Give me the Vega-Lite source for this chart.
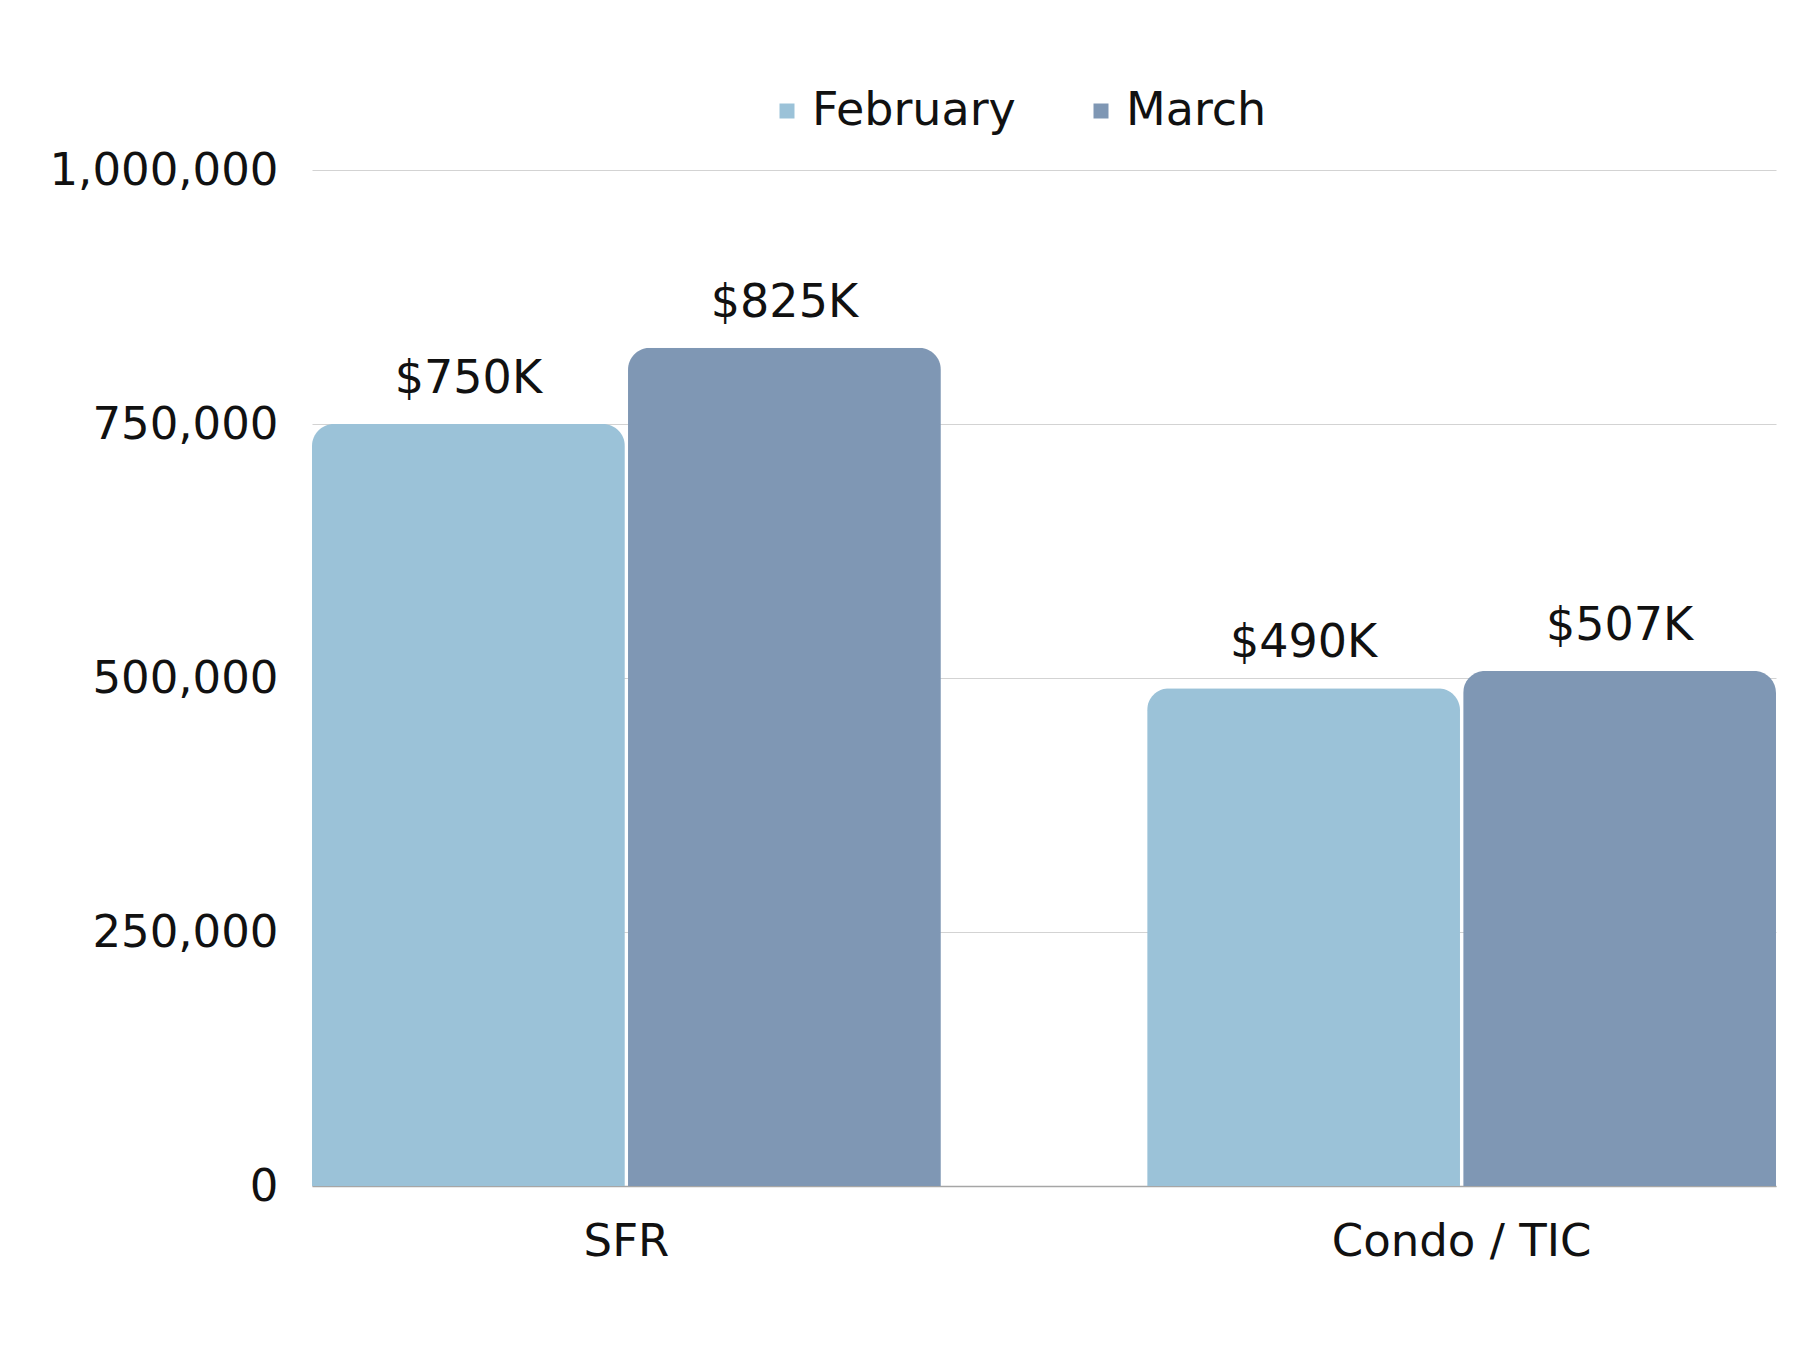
{
  "$schema": "https://vega.github.io/schema/vega-lite/v6.json",
  "width": 1464,
  "height": 1016,
  "autosize": {"type": "none"},
  "padding": {"left": 312, "top": 170, "right": 24, "bottom": 164},
  "background": "white",
  "config": {"font": "DejaVu Sans", "view": {"stroke": null}},
  "data": {
    "values": [
      {"category": "SFR", "month": "February", "value": 750000, "label": "$750K"},
      {"category": "SFR", "month": "March", "value": 825000, "label": "$825K"},
      {"category": "Condo / TIC", "month": "February", "value": 490000, "label": "$490K"},
      {"category": "Condo / TIC", "month": "March", "value": 507000, "label": "$507K"}
    ]
  },
  "encoding": {
    "x": {
      "field": "category",
      "type": "nominal",
      "sort": ["SFR", "Condo / TIC"],
      "scale": {"paddingInner": 0.247, "paddingOuter": 0},
      "axis": {
        "title": null,
        "labelAngle": 0,
        "ticks": false,
        "domainColor": "#A6A6A6",
        "domainWidth": 1.5,
        "labelFontSize": 45,
        "labelColor": "#111111",
        "labelPadding": 33,
        "labelLimit": 0,
        "grid": false
      }
    },
    "xOffset": {
      "field": "month",
      "type": "nominal",
      "sort": ["February", "March"],
      "scale": {"paddingInner": 0.01}
    },
    "y": {
      "field": "value",
      "type": "quantitative",
      "scale": {"domain": [0, 1000000]},
      "axis": {
        "title": null,
        "values": [0, 250000, 500000, 750000, 1000000],
        "format": ",d",
        "domain": false,
        "ticks": false,
        "gridColor": "#D3D3D3",
        "gridWidth": 1.2,
        "labelFontSize": 45,
        "labelPadding": 34,
        "labelLimit": 0,
        "labelColor": "#111111"
      }
    }
  },
  "layer": [
    {
      "mark": {"type": "bar", "cornerRadiusTopLeft": 22, "cornerRadiusTopRight": 22},
      "encoding": {
        "color": {
          "field": "month",
          "type": "nominal",
          "sort": ["February", "March"],
          "scale": {"range": ["#9BC2D8", "#7F97B4"]},
          "legend": {
            "orient": "none",
            "legendX": 452,
            "legendY": -82,
            "direction": "horizontal",
            "title": null,
            "symbolType": "square",
            "symbolSize": 225,
            "symbolStrokeWidth": 0,
            "labelFontSize": 46,
            "labelLimit": 0,
            "labelColor": "#111111",
            "columnPadding": 62,
            "labelOffset": 2
          }
        }
      }
    },
    {
      "mark": {"type": "text", "baseline": "bottom", "dy": -21, "fontSize": 46, "color": "#111111"},
      "encoding": {"text": {"field": "label"}}
    }
  ]
}
